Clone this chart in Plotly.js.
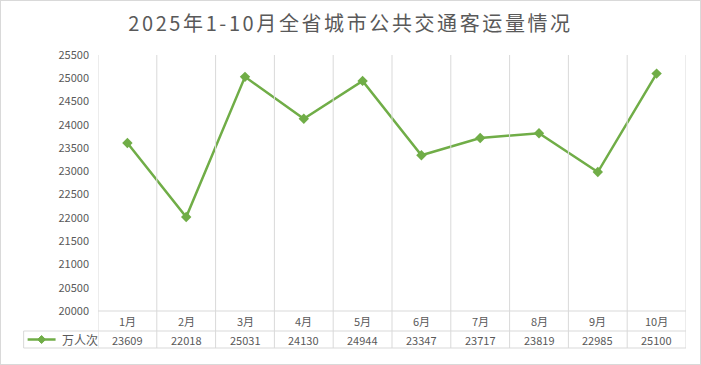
<!DOCTYPE html>
<html><head><meta charset="utf-8">
<script src="https://cdn.plot.ly/plotly-3.0.1.min.js"></script>
<style>html,body{margin:0;padding:0;background:#fff;}#wrap{position:relative;width:701px;height:365px;}#frame{position:absolute;left:0;top:0;width:699px;height:363px;border:1px solid #d9d9d9;pointer-events:none;}.gtitle{letter-spacing:2.6px;}</style>
</head><body><div id="wrap"><div id="chart" style="width:701px;height:365px;"></div><div id="frame"></div></div>
<script>
const months = ["1月","2月","3月","4月","5月","6月","7月","8月","9月","10月"];
const passengers = [23609,22018,25031,24130,24944,23347,23717,23819,22985,25100];
const seriesName = "万人次";
const yTicks = [20000,20500,21000,21500,22000,22500,23000,23500,24000,24500,25000,25500];

const W=701,H=365,L=97.5,R=686.5,T=55,B=311;
const pw=R-L, ph=B-T;
const px = x => (x-L)/pw;
const py = y => (B-y)/ph;
const grid = '#d9d9d9';
const txt = '#595959';
const font = '"Noto Sans CJK SC", "Liberation Sans", sans-serif';

const shapes=[], ann=[];
const row1=331, row2=348, tableLeft=23;
for(let i=0;i<=months.length;i++){
  shapes.push({type:'line',xref:'x',yref:'paper',x0:i-0.5,x1:i-0.5,y0:py(row2),y1:1,line:{color:grid,width:1}});
}
shapes.push({type:'line',xref:'paper',yref:'paper',x0:0,x1:1,y0:0,y1:0,line:{color:grid,width:1}});
shapes.push({type:'line',xref:'paper',yref:'paper',x0:px(tableLeft),x1:1,y0:py(row1),y1:py(row1),line:{color:grid,width:1}});
shapes.push({type:'line',xref:'paper',yref:'paper',x0:px(tableLeft),x1:1,y0:py(row2),y1:py(row2),line:{color:grid,width:1}});
shapes.push({type:'line',xref:'paper',yref:'paper',x0:px(tableLeft),x1:px(tableLeft),y0:py(row1),y1:py(row2),line:{color:grid,width:1}});
// legend key
shapes.push({type:'line',xref:'paper',yref:'paper',x0:px(27),x1:px(55),y0:py(339.5),y1:py(339.5),line:{color:'#70AD47',width:2.5}});
shapes.push({type:'path',xref:'paper',yref:'paper',path:`M ${px(41)} ${py(335.5)} L ${px(45)} ${py(339.5)} L ${px(41)} ${py(343.5)} L ${px(37)} ${py(339.5)} Z`,fillcolor:'#70AD47',line:{color:'#70AD47',width:1}});
ann.push({xref:'paper',yref:'paper',x:px(59),y:py(339.5),text:seriesName,showarrow:false,xanchor:'left',yanchor:'middle',font:{family:font,size:12,color:txt}});
months.forEach((m,i)=>{
  ann.push({xref:'x',yref:'paper',x:i,y:py(321),text:m,showarrow:false,xanchor:'center',yanchor:'middle',font:{family:font,size:11,color:txt}});
  ann.push({xref:'x',yref:'paper',x:i,y:py(339.5),text:String(passengers[i]),showarrow:false,xanchor:'center',yanchor:'middle',font:{family:font,size:11,color:txt}});
});

const data=[{x:months.map((_,i)=>i),y:passengers,type:'scatter',mode:'lines+markers',name:seriesName,
  line:{color:'#70AD47',width:2.5},marker:{symbol:'diamond',size:8,color:'#70AD47'},cliponaxis:false,hoverinfo:'skip'}];

const layout={width:W,height:H,margin:{l:L,r:W-R,t:T,b:H-B,pad:0},paper_bgcolor:'#fff',plot_bgcolor:'#fff',showlegend:false,
  title:{text:'2025年1-10月全省城市公共交通客运量情况',x:0.5,xanchor:'center',y:1-24/H,yanchor:'middle',font:{family:font,size:20,color:txt}},
  xaxis:{range:[-0.5,months.length-0.5],showgrid:false,zeroline:false,showticklabels:false,ticks:'',showline:false,fixedrange:true},
  yaxis:{range:[20000,25500],tickvals:yTicks,ticktext:yTicks.map(String),showgrid:false,zeroline:false,showline:false,ticks:'',ticklabelstandoff:8,
    tickfont:{family:font,size:11,color:txt},fixedrange:true},
  shapes:shapes,annotations:ann};
Plotly.newPlot('chart',data,layout,{displayModeBar:false,staticPlot:true});
</script></body></html>
